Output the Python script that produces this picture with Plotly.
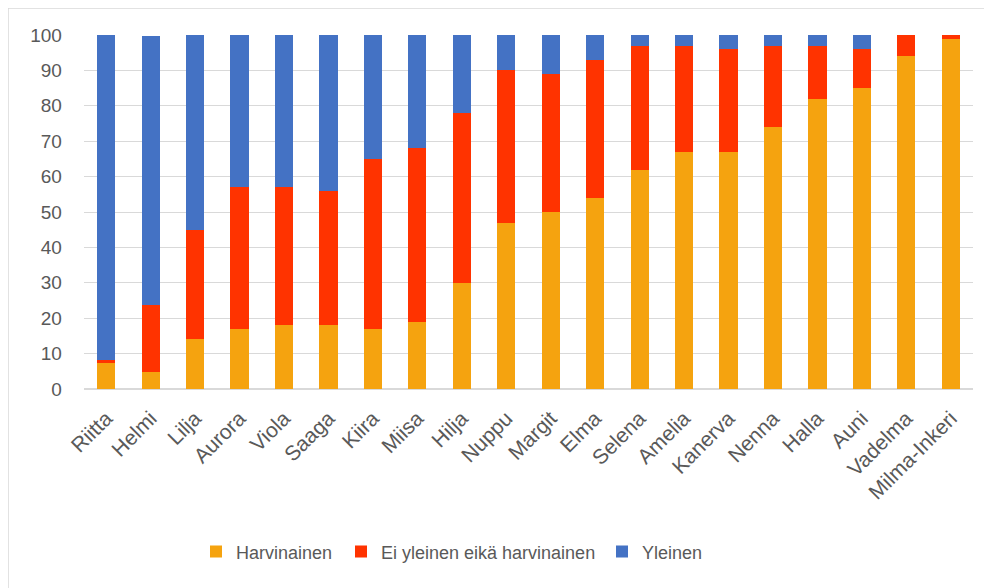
import plotly.graph_objects as go

categories = ["Riitta", "Helmi", "Lilja", "Aurora", "Viola", "Saaga", "Kiira", "Miisa",
              "Hilja", "Nuppu", "Margit", "Elma", "Selena", "Amelia", "Kanerva", "Nenna",
              "Halla", "Auni", "Vadelma", "Milma-Inkeri"]
harvinainen = [7.3, 4.7, 14, 17, 18, 18, 17, 19, 30, 47, 50, 54, 62, 67, 67, 74, 82, 85, 94, 99]
ei_yleinen = [0.9, 18.9, 31, 40, 39, 38, 48, 49, 48, 43, 39, 39, 35, 30, 29, 23, 15, 11, 6, 1]
yleinen = [91.8, 76, 55, 43, 43, 44, 35, 32, 22, 10, 11, 7, 3, 3, 4, 3, 3, 4, 0, 0]

series = [
    ("Harvinainen", harvinainen, "#F5A30F", "legend"),
    ("Ei yleinen eikä harvinainen", ei_yleinen, "#FF3300", "legend2"),
    ("Yleinen", yleinen, "#4472C4", "legend3"),
]

fig = go.Figure()
for name, vals, col, lg in series:
    fig.add_trace(go.Bar(x=categories, y=vals, name=name, marker_color=col,
                         marker_line_width=0, legend=lg))

font = "Liberation Sans"
W, H = 984, 580
L, R, T, B = 76, 19, 27, 199
pw, ph = W - L - R, H - T - B

def lx(px):
    # page x (incl. 8px body offset) -> paper x
    return (px - 8 - L) / pw

leg_common = dict(orientation="h", yanchor="middle", y=-0.46, xanchor="left",
                  font=dict(size=18, color="#595959"), itemwidth=30,
                  bgcolor="rgba(0,0,0,0)", borderwidth=0)

fig.update_layout(
    barmode="stack",
    bargap=0.59,
    width=W, height=H,
    margin=dict(l=L, r=R, t=T, b=B),
    plot_bgcolor="white", paper_bgcolor="white",
    font=dict(family=font, color="#595959", size=18),
    showlegend=True,
    legend=dict(x=lx(196), **leg_common),
    legend2=dict(x=lx(341), **leg_common),
    legend3=dict(x=lx(602), **leg_common),
    xaxis=dict(tickangle=-45, tickfont=dict(size=21), showgrid=False, showline=False,
               ticks="", automargin=False, ticklabelstandoff=12),
    yaxis=dict(range=[0, 100], dtick=10, showgrid=True, gridcolor="#D9D9D9", gridwidth=1,
               zeroline=True, zerolinecolor="#D9D9D9", zerolinewidth=1.5,
               tickfont=dict(size=19), ticks="", ticksuffix="    ", automargin=False),
    shapes=[dict(type="rect", xref="paper", yref="paper", x0=-L / pw, x1=1.2,
                 y0=-0.8, y1=1 + T / ph, line=dict(color="#D9D9D9", width=1.5),
                 fillcolor="rgba(0,0,0,0)", layer="below")],
)

fig.write_html("out.html")
